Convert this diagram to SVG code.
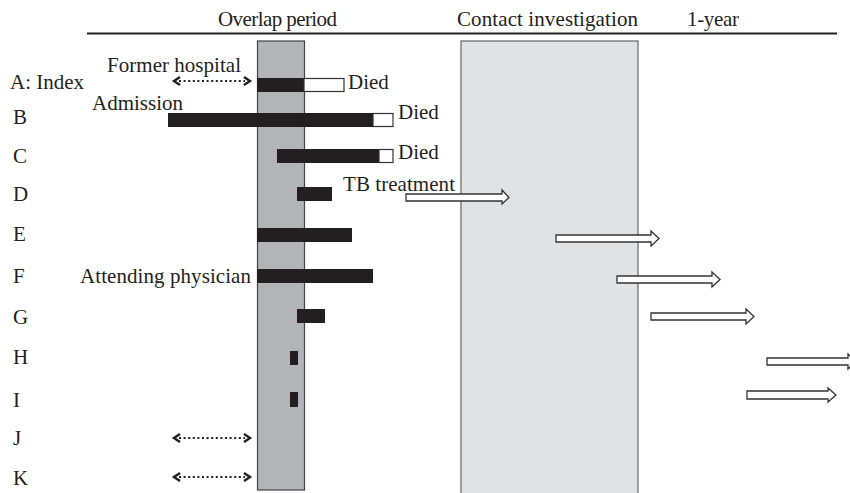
<svg xmlns="http://www.w3.org/2000/svg" width="850" height="493" viewBox="0 0 850 493">
<style>
text{font-family:"Liberation Serif","Times New Roman",serif;font-size:21px;fill:#231f20}
.bar{fill:#231f20}
.wb{fill:#fff;stroke:#333;stroke-width:1.2}
.blk{fill:#fff;stroke:#333;stroke-width:1.3;stroke-linejoin:miter}
.dot{stroke:#231f20;stroke-width:2.2;stroke-dasharray:2 2.6;fill:none}
.chev{stroke:#231f20;stroke-width:2.4;fill:none;stroke-linejoin:miter}
</style>
<rect width="850" height="493" fill="#fff"/>
<g id="header">
<line x1="87" y1="33.5" x2="837" y2="33.5" stroke="#231f20" stroke-width="2"/>
<text x="218" y="26" textLength="119">Overlap period</text>
<text x="457" y="26" textLength="181">Contact investigation</text>
<text x="687" y="26" textLength="52">1-year</text>
</g>
<g id="overlap-period">
<rect x="257.5" y="41" width="47" height="449" fill="#b3b4b8" stroke="#444" stroke-width="1.2"/>
</g>
<g id="contact-investigation">
<rect x="461" y="41" width="177" height="460" fill="#e1e2e4" stroke="#666" stroke-width="1.2"/>
</g>
<g id="labels">
<text x="10" y="89">A: Index</text>
<text x="13" y="124">B</text>
<text x="13" y="163">C</text>
<text x="13" y="201">D</text>
<text x="13" y="241">E</text>
<text x="13" y="283">F</text>
<text x="13" y="324">G</text>
<text x="13" y="364">H</text>
<text x="13" y="407">I</text>
<text x="13" y="445">J</text>
<text x="13" y="485">K</text>
<text x="107" y="72" textLength="134">Former hospital</text>
<text x="92" y="110" textLength="91">Admission</text>
<text x="80" y="283" textLength="171">Attending physician</text>
<text x="343" y="191" textLength="112">TB treatment</text>
<text x="348" y="89">Died</text>
<text x="398" y="119">Died</text>
<text x="398" y="159">Died</text>
</g>
<g id="row-A">
<rect class="bar" x="257" y="78" width="47" height="14"/>
<rect class="wb" x="304" y="78.5" width="40" height="13"/>
</g>
<g id="row-B">
<rect class="bar" x="168" y="113" width="205" height="14"/>
<rect class="wb" x="373" y="113.5" width="20" height="13"/>
</g>
<g id="row-C">
<rect class="bar" x="277" y="149" width="103" height="14"/>
<rect class="wb" x="379" y="149.5" width="14" height="13"/>
</g>
<g id="row-D"><rect class="bar" x="297" y="187" width="35" height="14"/></g>
<g id="row-E"><rect class="bar" x="257" y="228" width="95" height="14"/></g>
<g id="row-F"><rect class="bar" x="257" y="269" width="116" height="14"/></g>
<g id="row-G"><rect class="bar" x="297" y="309" width="28" height="14"/></g>
<g id="row-H"><rect class="bar" x="290" y="351" width="8" height="14"/></g>
<g id="row-I"><rect class="bar" x="290" y="392" width="8" height="15"/></g>
<g id="connectors">
<polygon class="blk" points="406,194 502,194 502,190 509,197.5 502,204 502,201 406,201"/>
<polygon class="blk" points="556,235 651,235 651,231 659,238.5 651,246 651,242 556,242"/>
<polygon class="blk" points="617,276 712,276 712,272 720,279.5 712,287 712,283 617,283"/>
<polygon class="blk" points="651,313 746,313 746,309 754,316.5 746,324 746,320 651,320"/>
<polygon class="blk" points="767,358 848,358 848,354 856,361.5 848,369 848,365 767,365"/>
<polygon class="blk" points="747,391 828,391 828,388 836,395 828,402 828,399 747,399"/>
<line class="dot" x1="179" y1="81" x2="245" y2="81"/>
<polyline class="chev" points="180,77 174,81 180,85"/>
<polyline class="chev" points="244,77 250,81 244,85"/>
<line class="dot" x1="179" y1="438" x2="245" y2="438"/>
<polyline class="chev" points="180,434 174,438 180,442"/>
<polyline class="chev" points="244,434 250,438 244,442"/>
<line class="dot" x1="179" y1="477" x2="245" y2="477"/>
<polyline class="chev" points="180,473 174,477 180,481"/>
<polyline class="chev" points="244,473 250,477 244,481"/>
</g>
</svg>
